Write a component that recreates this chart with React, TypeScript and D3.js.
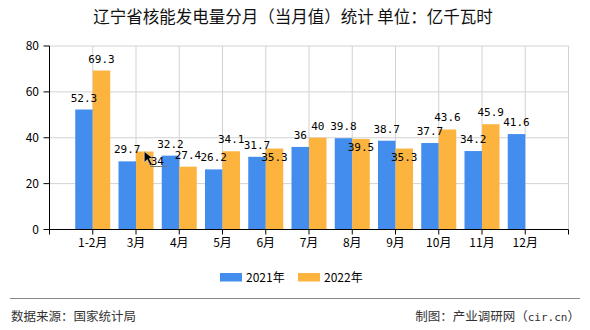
import React from "react";
import * as d3 from "d3";

const categories = ["1-2月", "3月", "4月", "5月", "6月", "7月", "8月", "9月", "10月", "11月", "12月"];
const series2021 = [52.3, 29.7, 32.2, 26.2, 31.7, 36, 39.8, 38.7, 37.7, 34.2, 41.6];
const series2022: (number | null)[] = [69.3, 34, 27.4, 34.1, 35.3, 40, 39.5, 35.3, 43.6, 45.9, null];
const yTicks = [0, 20, 40, 60, 80];
// label placement for 2022 series (style only)
const place2022 = ["above", "leader", "above", "above", "below", "above", "below", "below", "above", "above", "above"];

const W = 590, H = 330;
const BLUE = "#428DEE";
const ORANGE = "#FCB43F";
const CJK = "'Noto Sans CJK SC', 'Noto Sans', sans-serif";
const MONO = "'DejaVu Sans Mono', 'Liberation Mono', monospace";

export default function App() {
  const x = d3.scaleLinear().domain([0, 12]).range([49.5, 568.5]);
  const y = d3.scaleLinear().domain([0, 80]).range([229.5, 46]);
  const bw = 17.5;
  const xt = d3.range(0, 13);

  return (
    <svg width={W} height={H} style={{ position: "absolute", left: 0, top: 0, background: "#fff" }}>
      <rect width={W} height={H} fill="#fff" />
      <text x={293} y={22.5} textAnchor="middle" fontFamily={CJK} fontSize={16.5} fill="#111">
        辽宁省核能发电量分月（当月值）统计 单位：亿千瓦时
      </text>

      {/* grid */}
      {yTicks.filter((t) => t > 0).map((t) => (
        <line key={"hg" + t} x1={x(0)} x2={x(12)} y1={y(t)} y2={y(t)} stroke="#d2d2d2" />
      ))}
      {xt.filter((k) => k > 0).map((k) => (
        <line key={"vg" + k} x1={x(k)} x2={x(k)} y1={y(80)} y2={y(0)} stroke="#d2d2d2" />
      ))}

      {/* bars */}
      {categories.map((c, i) => {
        const cx = x(i + 1);
        const v1 = series2021[i];
        const v2 = series2022[i];
        return (
          <g key={c}>
            <rect x={cx - bw} y={y(v1)} width={bw} height={y(0) - y(v1)} fill={BLUE} />
            {v2 != null && (
              <rect x={cx} y={y(v2)} width={bw} height={y(0) - y(v2)} fill={ORANGE} />
            )}
          </g>
        );
      })}

      {/* axes */}
      <line x1={x(0)} x2={x(0)} y1={y(80)} y2={y(0)} stroke="#000" />
      <line x1={x(0)} x2={x(12)} y1={y(0)} y2={y(0)} stroke="#000" />
      {yTicks.map((t) => (
        <g key={"yt" + t}>
          <line x1={x(0) - 6} x2={x(0)} y1={y(t)} y2={y(t)} stroke="#000" />
          <text x={39} y={y(t) + 4} textAnchor="end" fontFamily={CJK} fontSize={12} fill="#000">
            {t}
          </text>
        </g>
      ))}
      {xt.map((k) => (
        <line key={"xt" + k} x1={x(k)} x2={x(k)} y1={y(0)} y2={y(0) + 5} stroke="#000" />
      ))}
      {categories.map((c, i) => (
        <text key={"xl" + c} x={x(i + 1)} y={247} textAnchor="middle" fontFamily={CJK} fontSize={12} fill="#000">
          {c}
        </text>
      ))}

      {/* data labels */}
      {categories.map((c, i) => {
        const cx = x(i + 1);
        const v1 = series2021[i];
        const v2 = series2022[i];
        const p = place2022[i];
        return (
          <g key={"dl" + c} fontFamily={MONO} fontSize={11} fill="#000">
            <text x={cx - bw / 2} y={y(v1) - 8} textAnchor="middle">{v1}</text>
            {v2 != null && p === "above" && (
              <text x={cx + bw / 2} y={y(v2) - 8} textAnchor="middle">{v2}</text>
            )}
            {v2 != null && p === "below" && (
              <text x={cx + bw / 2} y={y(v2) + 12} textAnchor="middle">{v2}</text>
            )}
            {v2 != null && p === "leader" && (
              <g>
                <polyline
                  points={`${cx + bw / 2},${y(v2)} ${cx + bw / 2 + 6},${y(v2) + 15} ${cx + bw / 2 + 22},${y(v2) + 15}`}
                  fill="none"
                  stroke="#777"
                  strokeWidth={1}
                />
                <path
                  d={`M${cx + bw / 2 - 0.5},${y(v2)} l0,11 l3,-3 l3,6 l2,-1 l-3,-6 l4,0 z`}
                  fill="#000"
                  stroke="#fff"
                  strokeWidth={0.5}
                />
                <text x={cx + bw / 2 + 6} y={y(v2) + 13} textAnchor="start">{v2}</text>
              </g>
            )}
          </g>
        );
      })}

      {/* legend */}
      <rect x={220} y={273} width={22} height={8.5} fill={BLUE} />
      <text x={246} y={281.5} fontFamily={CJK} fontSize={12} fill="#000">2021年</text>
      <rect x={298} y={273} width={22} height={8.5} fill={ORANGE} />
      <text x={324} y={281.5} fontFamily={CJK} fontSize={12} fill="#000">2022年</text>

      {/* footer */}
      <line x1={10} x2={580} y1={298.5} y2={298.5} stroke="#888" />
      <text x={11} y={321} fontFamily={CJK} fontSize={12.5} fill="#333">数据来源：国家统计局</text>
      <text x={580} y={321} textAnchor="end" fontFamily={CJK} fontSize={12.5} fill="#333">
        制图：产业调研网（<tspan fontFamily={MONO} fontSize={11}>cir.cn</tspan>）
      </text>
    </svg>
  );
}
